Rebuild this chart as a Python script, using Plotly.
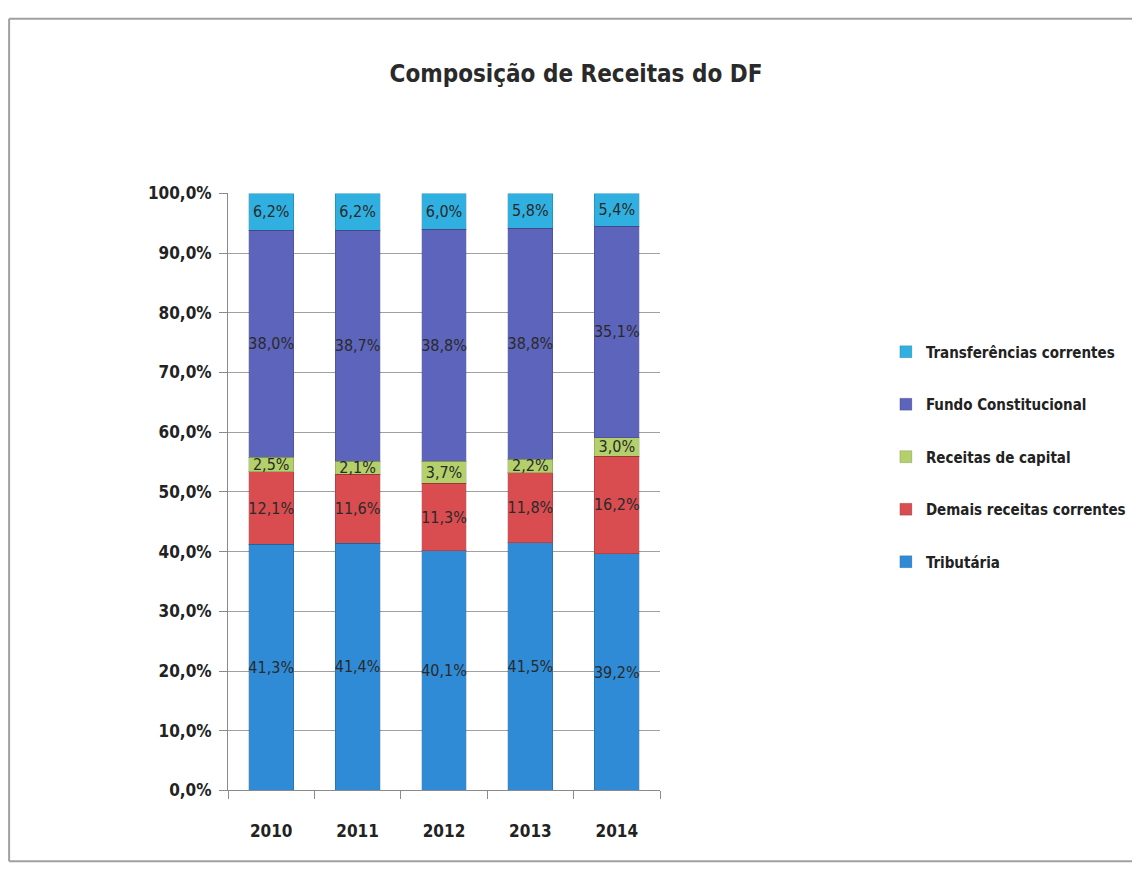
import plotly.graph_objects as go

# ── DADOS ──────────────────────────────────────────────────────
anos = ["2010", "2011", "2012", "2013", "2014"]

tributaria       = [41.3, 41.4, 40.1, 41.5, 39.2]
demais_correntes = [12.1, 11.6, 11.3, 11.8, 16.2]
receitas_capital = [2.5, 2.1, 3.7, 2.2, 3.0]
fundo_const      = [38.0, 38.7, 38.8, 38.8, 35.1]
transferencias   = [6.2, 6.2, 6.0, 5.8, 5.4]

# (nome, valores, cor, ordem na legenda)
series = [
    ("Tributária", tributaria, "#2f8bd6", 5),
    ("Demais receitas correntes", demais_correntes, "#d94c50", 4),
    ("Receitas de capital", receitas_capital, "#b3d06a", 3),
    ("Fundo Constitucional", fundo_const, "#5d64bb", 2),
    ("Transferências correntes", transferencias, "#2fb0e0", 1),
]

FONTE = "DejaVu Sans Condensed, DejaVu Sans, sans-serif"
W, H = 1124, 864
# conversao pixel da referencia -> coordenada da figura (medido na captura)
OX = 8
OY, ESC_Y = 17.5, 0.977

def px_x(X):
    return (X - OX) / W

def px_y(Y):
    return 1 - ((Y - OY) / ESC_Y) / H

fig = go.Figure()
for nome, vals, cor, rank in series:
    fig.add_trace(go.Bar(
        x=anos, y=vals, name=nome, legendgroup=nome, legendrank=rank,
        marker=dict(color=cor, line=dict(color="rgba(0,0,0,0.15)", width=1)),
        width=0.52,
        customdata=vals,
        texttemplate="%{customdata:.1f}%",
        textposition="inside", insidetextanchor="middle", textangle=0,
        constraintext="none",
        textfont=dict(family=FONTE, size=16, color="#2a2a2a"),
    ))

fig.update_layout(
    width=W, height=H,
    margin=dict(l=0, r=0, t=0, b=0),
    paper_bgcolor="white", plot_bgcolor="white",
    barmode="stack", barnorm="percent",
    separators=",.",
    uniformtext=dict(minsize=14, mode="show"),
    title=dict(text="<b>Composição de Receitas do DF</b>",
               x=px_x(576), xanchor="center", y=px_y(82), yanchor="middle",
               font=dict(family=FONTE, size=24, color="#2a2a2a")),
    legend=dict(x=0.999, y=px_y(335), xanchor="right", yanchor="top",
                traceorder="grouped", tracegroupgap=30,
                bgcolor="rgba(0,0,0,0)",
                font=dict(family=FONTE, size=15, color="#222222", weight="bold"),
                itemwidth=30),
    xaxis=dict(domain=[px_x(228), px_x(660)],
               showline=True, linecolor="#8a8a8a", linewidth=1,
               ticks="outside", ticklen=8, tickcolor="#8a8a8a",
               tickson="boundaries", ticklabelstandoff=25,
               tickfont=dict(family=FONTE, size=17, color="#222222", weight="bold")),
    yaxis=dict(domain=[px_y(790), px_y(193)],
               range=[0, 100], dtick=10, tickformat=".1f", ticksuffix="%",
               showline=True, linecolor="#8a8a8a", linewidth=1,
               ticks="outside", ticklen=8, tickcolor="#8a8a8a",
               ticklabelstandoff=4,
               gridcolor="#a0a0a0", gridwidth=1,
               tickfont=dict(family=FONTE, size=17, color="#222222", weight="bold")),
    shapes=[
        # moldura do grafico (sem lado direito, como no original)
        dict(type="line", xref="paper", yref="paper",
             x0=0.001, x1=1, y0=0.999, y1=0.999,
             line=dict(color="#a0a0a0", width=2)),
        dict(type="line", xref="paper", yref="paper",
             x0=0.001, x1=0.001, y0=0.999, y1=0.001,
             line=dict(color="#a0a0a0", width=2)),
        dict(type="line", xref="paper", yref="paper",
             x0=0.001, x1=1, y0=0.001, y1=0.001,
             line=dict(color="#a0a0a0", width=2)),
    ],
)

fig.write_html("out.html")
